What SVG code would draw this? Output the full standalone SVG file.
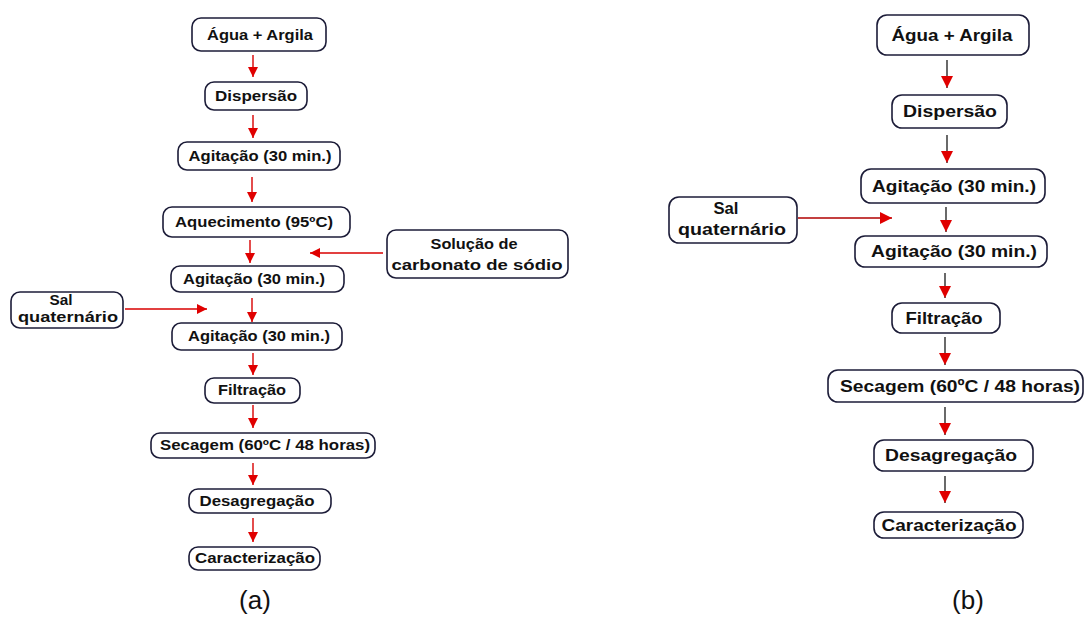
<svg xmlns="http://www.w3.org/2000/svg" width="1085" height="626" viewBox="0 0 1085 626">
<style>
.box{fill:#fff;stroke:#1c1c38;stroke-width:1.6}
.ta{font-family:"Liberation Sans",Arial,sans-serif;font-weight:bold;font-size:15px;fill:#111;text-anchor:middle}
.tb{font-family:"Liberation Sans",Arial,sans-serif;font-weight:bold;font-size:17px;fill:#111;text-anchor:middle}
.sa{stroke:#d80000;stroke-width:1.4;fill:none}
.sb{stroke:#2a2a2a;stroke-width:1.4;fill:none}
.sh{stroke:#b00000;stroke-width:1.4;fill:none}
.cap{font-family:"Liberation Sans",Arial,sans-serif;font-size:26px;fill:#111;text-anchor:middle}
</style>
<defs>
<marker id="ha" viewBox="0 0 10 10" refX="10" refY="5" markerWidth="11" markerHeight="10" markerUnits="userSpaceOnUse" orient="auto"><path d="M0,0 L10,5 L0,10 z" fill="#e00000"/></marker>
<marker id="hb" viewBox="0 0 10 10" refX="10" refY="5" markerWidth="13" markerHeight="12" markerUnits="userSpaceOnUse" orient="auto"><path d="M0,0 L10,5 L0,10 z" fill="#e00000"/></marker>
</defs>
<rect width="1085" height="626" fill="#fff"/>

<g id="connectors">
<line class="sa" x1="253" y1="55" x2="253" y2="77" marker-end="url(#ha)"/>
<line class="sa" x1="253" y1="115" x2="253" y2="138" marker-end="url(#ha)"/>
<line class="sa" x1="252" y1="177" x2="252" y2="202" marker-end="url(#ha)"/>
<line class="sa" x1="250" y1="240" x2="250" y2="263" marker-end="url(#ha)"/>
<line class="sa" x1="252" y1="298" x2="252" y2="322" marker-end="url(#ha)"/>
<line class="sa" x1="253" y1="353" x2="253" y2="375" marker-end="url(#ha)"/>
<line class="sa" x1="253" y1="405" x2="253" y2="428" marker-end="url(#ha)"/>
<line class="sa" x1="253" y1="463" x2="253" y2="485" marker-end="url(#ha)"/>
<line class="sa" x1="253" y1="518" x2="253" y2="542" marker-end="url(#ha)"/>
<line class="sa" x1="383" y1="253" x2="310" y2="253" marker-end="url(#ha)"/>
<line class="sa" x1="125" y1="309" x2="207" y2="309" marker-end="url(#ha)"/>

<line class="sb" x1="947" y1="60" x2="947" y2="88" marker-end="url(#hb)"/>
<line class="sb" x1="947" y1="135" x2="947" y2="163" marker-end="url(#hb)"/>
<line class="sb" x1="946" y1="207" x2="946" y2="232" marker-end="url(#hb)"/>
<line class="sb" x1="945" y1="273" x2="945" y2="298" marker-end="url(#hb)"/>
<line class="sb" x1="945" y1="337" x2="945" y2="365" marker-end="url(#hb)"/>
<line class="sb" x1="945" y1="407" x2="945" y2="435" marker-end="url(#hb)"/>
<line class="sb" x1="945" y1="476" x2="945" y2="503" marker-end="url(#hb)"/>
<line class="sh" x1="798" y1="218" x2="892" y2="218" marker-end="url(#hb)"/>
</g>

<g id="a1"><rect class="box" x="192" y="18" width="134" height="33" rx="9"/><text class="ta" x="260" y="40" textLength="106" lengthAdjust="spacingAndGlyphs">Água + Argila</text></g>
<g id="a2"><rect class="box" x="205" y="82" width="102" height="28" rx="9"/><text class="ta" x="256" y="101" textLength="82" lengthAdjust="spacingAndGlyphs">Dispersão</text></g>
<g id="a3"><rect class="box" x="178" y="142" width="162" height="28" rx="9"/><text class="ta" x="260" y="161" textLength="143" lengthAdjust="spacingAndGlyphs">Agitação (30 min.)</text></g>
<g id="a4"><rect class="box" x="163" y="207" width="187" height="30" rx="9"/><text class="ta" x="254" y="227" textLength="158" lengthAdjust="spacingAndGlyphs">Aquecimento (95ºC)</text></g>
<g id="a5"><rect class="box" x="171" y="266" width="173" height="26" rx="9"/><text class="ta" x="254" y="284" textLength="142" lengthAdjust="spacingAndGlyphs">Agitação (30 min.)</text></g>
<g id="a6"><rect class="box" x="172" y="323" width="170" height="27" rx="9"/><text class="ta" x="259" y="341" textLength="142" lengthAdjust="spacingAndGlyphs">Agitação (30 min.)</text></g>
<g id="a7"><rect class="box" x="205" y="378" width="95" height="25" rx="9"/><text class="ta" x="252" y="395" textLength="68" lengthAdjust="spacingAndGlyphs">Filtração</text></g>
<g id="a8"><rect class="box" x="151" y="433" width="224" height="25" rx="9"/><text class="ta" x="265" y="450" textLength="210" lengthAdjust="spacingAndGlyphs">Secagem (60ºC / 48 horas)</text></g>
<g id="a9"><rect class="box" x="189" y="489" width="142" height="24" rx="9"/><text class="ta" x="257" y="506" textLength="115" lengthAdjust="spacingAndGlyphs">Desagregação</text></g>
<g id="a10"><rect class="box" x="189" y="547" width="131" height="23" rx="9"/><text class="ta" x="255" y="563" textLength="120" lengthAdjust="spacingAndGlyphs">Caracterização</text></g>
<g id="a-sol"><rect class="box" x="387" y="230" width="181" height="48" rx="9"/><text class="ta" x="474" y="249" textLength="87" lengthAdjust="spacingAndGlyphs">Solução de</text><text class="ta" x="477" y="270" textLength="171" lengthAdjust="spacingAndGlyphs">carbonato de sódio</text></g>
<g id="a-sal"><rect class="box" x="11" y="292" width="112" height="36" rx="9"/><text class="ta" x="61" y="305" textLength="23" lengthAdjust="spacingAndGlyphs">Sal</text><text class="ta" x="68" y="322" textLength="100" lengthAdjust="spacingAndGlyphs">quaternário</text></g>

<g id="b1"><rect class="box" x="877" y="15" width="152" height="40" rx="10"/><text class="tb" x="952" y="41" textLength="121" lengthAdjust="spacingAndGlyphs">Água + Argila</text></g>
<g id="b2"><rect class="box" x="892" y="95" width="115" height="33" rx="10"/><text class="tb" x="950" y="117" textLength="94" lengthAdjust="spacingAndGlyphs">Dispersão</text></g>
<g id="b3"><rect class="box" x="861" y="169" width="184" height="34" rx="10"/><text class="tb" x="954" y="192" textLength="164" lengthAdjust="spacingAndGlyphs">Agitação (30 min.)</text></g>
<g id="b4"><rect class="box" x="855" y="236" width="192" height="31" rx="10"/><text class="tb" x="954" y="257" textLength="166" lengthAdjust="spacingAndGlyphs">Agitação (30 min.)</text></g>
<g id="b5"><rect class="box" x="892" y="303" width="108" height="30" rx="10"/><text class="tb" x="944" y="324" textLength="77" lengthAdjust="spacingAndGlyphs">Filtração</text></g>
<g id="b6"><rect class="box" x="828" y="370" width="255" height="32" rx="10"/><text class="tb" x="960" y="392" textLength="240" lengthAdjust="spacingAndGlyphs">Secagem (60ºC / 48 horas)</text></g>
<g id="b7"><rect class="box" x="874" y="440" width="159" height="31" rx="10"/><text class="tb" x="951" y="461" textLength="132" lengthAdjust="spacingAndGlyphs">Desagregação</text></g>
<g id="b8"><rect class="box" x="874" y="512" width="149" height="26" rx="10"/><text class="tb" x="949" y="531" textLength="135" lengthAdjust="spacingAndGlyphs">Caracterização</text></g>
<g id="b-sal"><rect class="box" x="669" y="197" width="128" height="46" rx="10"/><text class="tb" x="726" y="214" textLength="25" lengthAdjust="spacingAndGlyphs">Sal</text><text class="tb" x="732" y="235" textLength="108" lengthAdjust="spacingAndGlyphs">quaternário</text></g>

<text class="cap" x="255" y="609">(a)</text>
<text class="cap" x="968" y="609">(b)</text>
</svg>
